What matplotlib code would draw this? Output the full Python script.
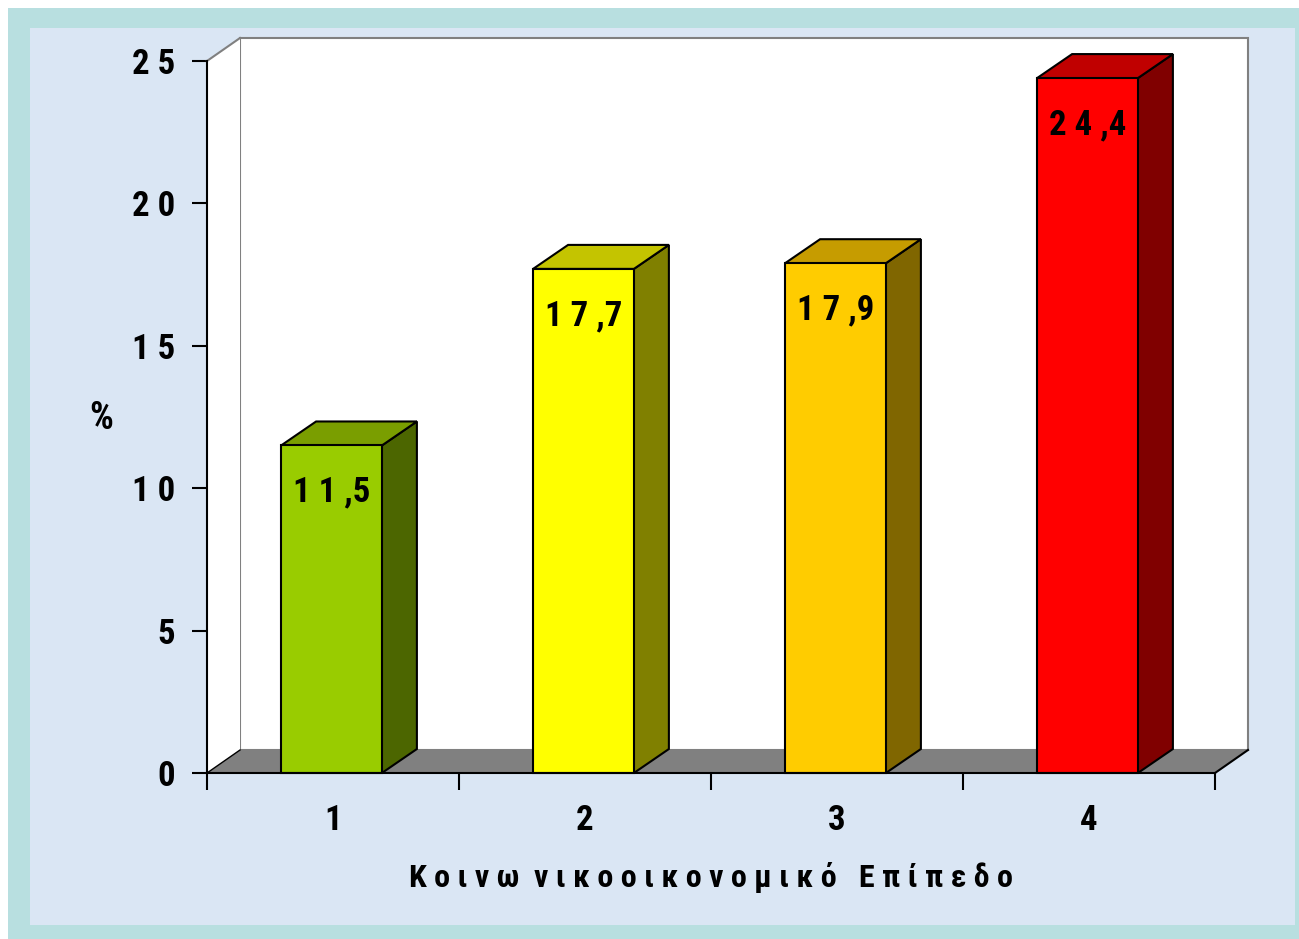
import matplotlib
matplotlib.use("Agg")
import matplotlib.pyplot as plt
from matplotlib.patches import Polygon, Rectangle

categories = ["1", "2", "3", "4"]
values = [11.5, 17.7, 17.9, 24.4]
value_labels = ["1 1 ,5", "1 7 ,7", "1 7 ,9", "2 4 ,4"]
yticks = [0, 5, 10, 15, 20, 25]
ytick_labels = ["0", "5", "1 0", "1 5", "2 0", "2 5"]
xlabel = "Κ ο ι ν ω  ν ι κ ο ο ι κ ο ν ο μ ι κ ό   Ε π ί π ε δ ο"
ylabel = "%"

front_colors = ["#99CC00", "#FFFF00", "#FFCC00", "#FF0000"]
side_colors = ["#4C6600", "#808000", "#806600", "#800000"]
top_colors = ["#7A9E00", "#C4C400", "#C69C00", "#C00000"]

plt.rcParams["font.family"] = ["Roboto Condensed", "DejaVu Sans"]
plt.rcParams["font.weight"] = "bold"

W, H = 1299, 939
fig = plt.figure(figsize=(W / 100, H / 100), dpi=100, facecolor="white")

# frame and textured panel (solid approximation)
fig.patches.append(Rectangle((8 / W, 0), 1 - 8 / W, 1 - 8 / H, transform=fig.transFigure,
                             facecolor="#B8DFE0", edgecolor="none", zorder=-3))
fig.patches.append(Rectangle((30 / W, 14 / H), (1295 - 30) / W, (925 - 28) / H,
                             transform=fig.transFigure, facecolor="#DAE6F4",
                             edgecolor="none", zorder=-2))

x0, x1 = 207, 1215
y0, y1 = 773, 61
ax = fig.add_axes([x0 / W, (H - y0) / H, (x1 - x0) / W, (y0 - y1) / H])
ax.set_xlim(0.5, 4.5)
ax.set_ylim(0, 25)
ax.patch.set_alpha(0)
for s in ax.spines.values():
    s.set_visible(False)

# depth offsets in data units
dx = 33 / 252.0
dy = 23 / ((y0 - y1) / 25.0)
bdx = 35 / 252.0
bdy = 24 / ((y0 - y1) / 25.0)

kw = dict(clip_on=False)
# back wall
ax.add_patch(Rectangle((0.5 + dx, dy), 4.0, 25, facecolor="white", edgecolor="#808080", lw=1.5, zorder=1, **kw))
# left wall
ax.add_patch(Polygon([(0.5, 0), (0.5 + dx, dy), (0.5 + dx, 25 + dy), (0.5, 25)], closed=True,
                     facecolor="white", edgecolor="none", zorder=1, **kw))
ax.plot([0.5, 0.5 + dx], [25, 25 + dy], color="#808080", lw=1.5, zorder=2, **kw)
# floor
ax.add_patch(Polygon([(0.5, 0), (4.5, 0), (4.5 + dx, dy), (0.5 + dx, dy)], closed=True,
                     facecolor="#808080", edgecolor="none", zorder=2, **kw))
ax.plot([4.5, 4.5 + dx], [0, dy], color="black", lw=1.5, zorder=3, **kw)
ax.plot([0.5, 0.5 + dx], [0, dy], color="black", lw=1.0, zorder=3, **kw)

# bars
bw = 0.4
for i, (v, fc, sc, tc, lab) in enumerate(zip(values, front_colors, side_colors, top_colors, value_labels)):
    c = i + 1 - 0.006
    l, r = c - bw / 2, c + bw / 2
    ax.add_patch(Polygon([(r, 0), (r + bdx, bdy), (r + bdx, v + bdy), (r, v)], closed=True,
                         facecolor=sc, edgecolor="black", lw=1.5, zorder=4, **kw))
    ax.add_patch(Polygon([(l, v), (l + bdx, v + bdy), (r + bdx, v + bdy), (r, v)], closed=True,
                         facecolor=tc, edgecolor="black", lw=1.5, zorder=4, **kw))
    ax.add_patch(Rectangle((l, 0), bw, v, facecolor=fc, edgecolor="black", lw=1.5, zorder=5, **kw))
    ax.annotate(lab, xy=(c, v), xytext=(0, -30), textcoords="offset pixels",
                ha="center", va="top", fontsize=25, fontweight="bold", zorder=6)

# axes lines
ax.plot([0.5, 4.5], [0, 0], color="black", lw=1.5, zorder=6, **kw)
ax.plot([0.5, 0.5], [0, 25], color="black", lw=1.5, zorder=6, **kw)

ax.set_yticks(yticks)
ax.set_yticklabels(ytick_labels, fontsize=25, fontweight="bold")
ax.tick_params(axis="y", length=11, width=1.5, pad=12, color="black")
ax.set_xticks([1, 2, 3, 4])
ax.set_xticklabels(categories, fontsize=25, fontweight="bold")
ax.tick_params(axis="x", which="major", length=0, pad=22)
ax.set_xticks([0.5, 1.5, 2.5, 3.5, 4.5], minor=True)
ax.tick_params(axis="x", which="minor", length=12, width=1.5, color="black")

ax.set_xlabel(xlabel, fontsize=23, fontweight="bold", labelpad=18)
ax.set_ylabel(ylabel, fontsize=27, fontweight="bold", rotation=0, labelpad=0, va="center")
ax.yaxis.set_label_coords(-0.105, 12.45 / 25)

fig.savefig("out.png", dpi=100, facecolor=fig.get_facecolor())
